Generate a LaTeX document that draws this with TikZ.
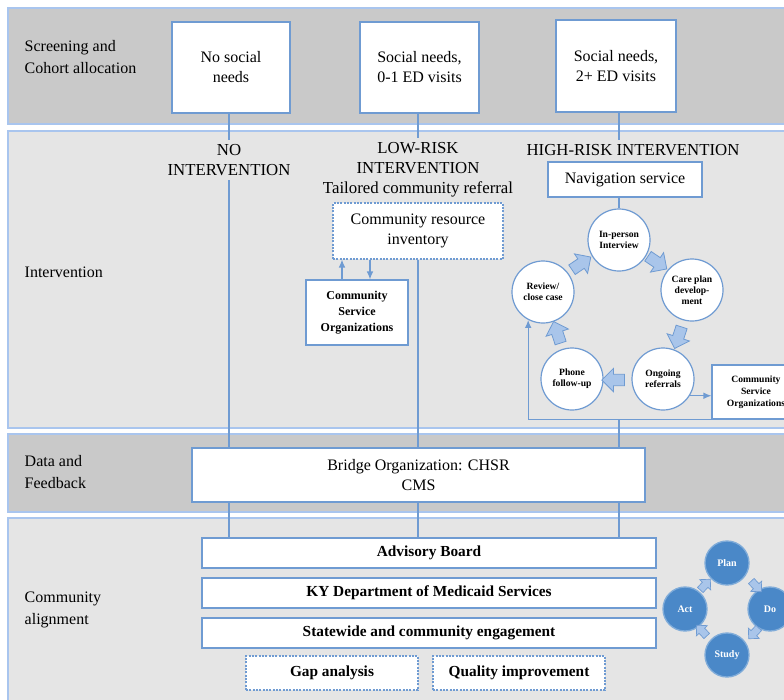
\documentclass[tikz,border=0pt]{standalone}
\usepackage{fontspec}
\setmainfont{Liberation Serif}
\usetikzlibrary{shapes.arrows,arrows.meta,calc}
\definecolor{bandD}{HTML}{C9C9C9}
\definecolor{bandL}{HTML}{E5E5E5}
\definecolor{bandB}{HTML}{A9C5EE}
\definecolor{lineB}{HTML}{6F9BD2}
\definecolor{fatF}{HTML}{A9C5EA}
\definecolor{pdsaC}{HTML}{4A88C8}
\tikzset{
  band/.style={draw=bandB, line width=1.6pt},
  box/.style={draw=lineB, fill=white, line width=0.8pt, align=center, inner sep=1pt, font=\fontsize{12}{15}\selectfont},
  dbox/.style={box, dash pattern=on 1.5pt off 1pt},
  lab/.style={align=left, anchor=west, font=\fontsize{12}{16}\selectfont},
  head/.style={align=center, font=\fontsize{12.6}{15}\selectfont},
  conn/.style={draw=lineB, line width=0.9pt},
  arr/.style={conn, -{Latex[length=6pt,width=5pt]}},
  circ/.style={circle, draw=lineB, fill=white, line width=0.9pt, minimum size=46.5pt, inner sep=0pt, align=center, font=\bfseries\fontsize{7.2}{8.2}\selectfont},
  fat/.style={single arrow, draw=lineB, fill=fatF, line width=0.6pt, minimum height=17pt, inner sep=4pt, single arrow head extend=4.5pt},
  sfat/.style={single arrow, draw=lineB, fill=fatF, line width=0.5pt, minimum height=11pt, inner sep=2.6pt, single arrow head extend=2.8pt},
  pdsa/.style={circle, fill=pdsaC, draw=pdsaC!70!white, line width=1pt, minimum size=33pt, inner sep=0pt, text=white, font=\bfseries\fontsize{7.5}{8}\selectfont},
  cbox/.style={box, font=\bfseries\fontsize{11.5}{14}\selectfont},
}
\begin{document}
\begin{tikzpicture}[x=0.75pt, y=-0.75pt]
\path[use as bounding box] (0,0) rectangle (784,699);
\clip (0,0) rectangle (784,699);
\fill[white] (0,0) rectangle (784,699);
% bands
\draw[band, fill=bandD] (8,8) rectangle (800,124);
\draw[band, fill=bandL] (8,131) rectangle (800,428);
\draw[band, fill=bandD] (8,434) rectangle (800,512);
\draw[band, fill=bandL] (8,518) rectangle (800,710);
% band labels
\node[lab] (t1) at (20,57) {Screening and\\Cohort allocation};
\node[lab] (t2) at (20,272) {Intervention};
\node[lab] (t3) at (20,472) {Data and\\Feedback};
\node[lab] (t4) at (20,610) {Community\\alignment};
% cohort boxes
\node[box, minimum width=88.5pt, minimum height=68.25pt] (b1) at (231,67.5) {No social\\needs};
\node[box, minimum width=89.25pt, minimum height=68.25pt] (b2) at (419.5,67.5) {Social needs,\\0-1 ED visits};
\node[box, minimum width=90pt, minimum height=69pt] (b3) at (616,66) {Social needs,\\2+ ED visits};
% intervention headings
\node[head] (lNo) at (229,160) {NO\\INTERVENTION};
\node[head] (lLow) at (418,170) {LOW-RISK\\INTERVENTION\\Tailored community referral};
\node[head] (lHigh) at (633,150) {HIGH-RISK INTERVENTION};
% low risk
\node[dbox, minimum width=127.5pt, minimum height=42pt] (cri) at (418,231) {Community resource\\inventory};
\node[box, minimum width=76.5pt, minimum height=48.75pt, font=\bfseries\fontsize{9}{12}\selectfont] (cso1) at (357,312.5) {Community\\Service\\Organizations};
% high risk
\node[box, minimum width=115.5pt, minimum height=26.25pt] (nav) at (625,179.5) {Navigation service};
\node[circ] (inp) at (619,240) {In-person\\Interview};
\node[circ] (care) at (692,290) {Care plan\\develop-\\ment};
\node[circ] (ong) at (663,379) {Ongoing\\referrals};
\node[circ] (phone) at (572,379) {Phone\\follow-up};
\node[circ] (rev) at (543,292) {Review/\\close case};
\node[box, minimum width=66pt, minimum height=40.5pt, font=\bfseries\fontsize{7.2}{9}\selectfont] (cso2) at (756,392) {Community\\Service\\Organizations};
\node[fat, rotate=-34] (a1) at (655,261) {};
\node[fat, rotate=-108] (a2) at (679,335) {};
\node[fat, rotate=180] (a3) at (616,380) {};
\node[fat, rotate=108] (a4) at (558,335) {};
\node[fat, rotate=34] (a5) at (579,265) {};
% data
\node[box, minimum width=339.75pt, minimum height=40.5pt] (bridge) at (418.5,475) {Bridge Organization: CHSR\\CMS};
% community
\node[cbox, minimum width=340.5pt, minimum height=22.5pt] (adv) at (429,553) {Advisory Board};
\node[cbox, minimum width=340.5pt, minimum height=22.5pt] (ky) at (429,593) {KY Department of Medicaid Services};
\node[cbox, minimum width=340.5pt, minimum height=22.5pt] (sw) at (429,633) {Statewide and community engagement};
\node[dbox, font=\bfseries\fontsize{11.5}{14}\selectfont, minimum width=129pt, minimum height=25.5pt] (gap) at (332,673) {Gap analysis};
\node[dbox, font=\bfseries\fontsize{11.5}{14}\selectfont, minimum width=129pt, minimum height=25.5pt] (qi) at (519,673) {Quality improvement};
% PDSA
\node[pdsa] (plan) at (727,563) {Plan};
\node[pdsa] (do) at (770,609) {Do};
\node[pdsa] (study) at (727,655) {Study};
\node[pdsa] (act) at (685,609) {Act};
\node[sfat, rotate=-47] (p1) at (755,585) {};
\node[sfat, rotate=-133] (p2) at (755,632) {};
\node[sfat, rotate=133] (p3) at (703,632) {};
\node[sfat, rotate=47] (p4) at (704,586) {};
% connectors
\coordinate (xl) at (229,0);
\coordinate (xm) at (418,0);
\coordinate (xu) at (342,0);
\coordinate (xd) at (370,0);
\draw[conn] (b1.south -| xl) -- (lNo.north -| xl);
\draw[conn] (lNo.south -| xl) -- (bridge.north -| xl);
\draw[conn] (b2.south -| xm) -- (lLow.north -| xm);
\draw[conn] (cri.south -| xm) -- (bridge.north -| xm);
\draw[conn] (b3.south -| inp) -- (lHigh.north -| inp);
\draw[conn] (nav.south -| inp) -- (inp.north);
\draw[arr] (cso1.north -| xu) -- (cri.south -| xu);
\draw[arr] (cri.south -| xd) -- (cso1.north -| xd);
\draw[arr] (ong.-32) -- (ong.-32 -| cso2.west);
\draw[arr] (cso2.south west) -| (rev.242);
\draw[conn] (cso2.south -| inp) -- (bridge.north -| inp);
\draw[conn] (bridge.south -| xl) -- (adv.north -| xl);
\draw[conn] (bridge.south -| xm) -- (adv.north -| xm);
\draw[conn] (bridge.south -| inp) -- (adv.north -| inp);
\end{tikzpicture}
\end{document}
